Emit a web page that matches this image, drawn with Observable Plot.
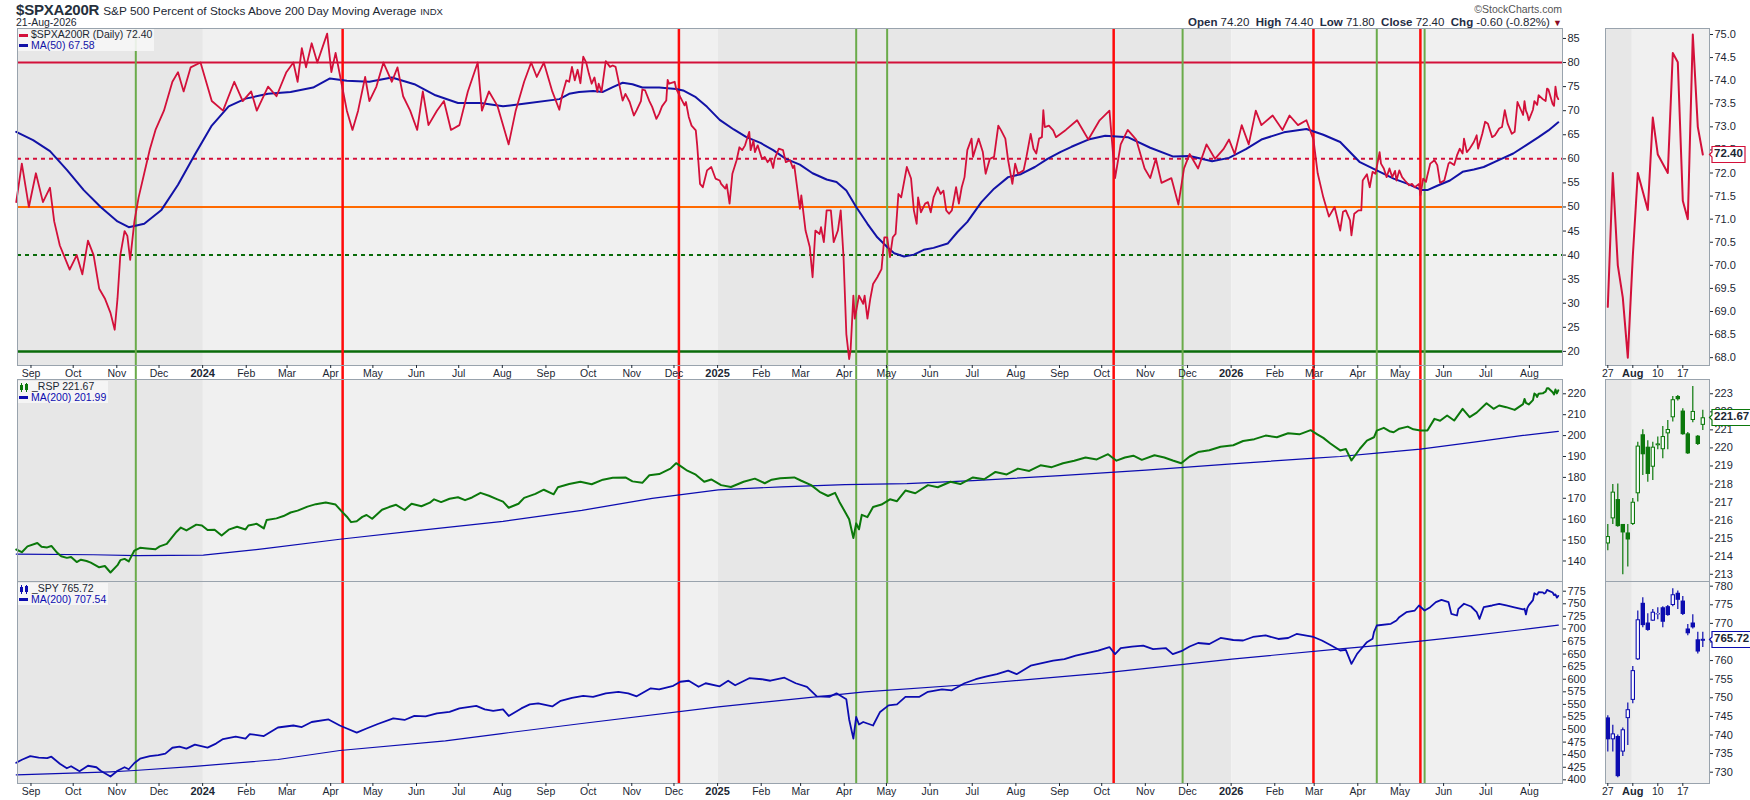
<!DOCTYPE html>
<html>
<head>
<meta charset="utf-8">
<script src="https://cdn.jsdelivr.net/npm/d3@7"></script>
<script src="https://cdn.jsdelivr.net/npm/@observablehq/plot@0.6"></script>
<style>
  body { margin: 0; background: #fff; font-family: "Liberation Sans", Arial, sans-serif; color: #1c2733; }
  #root { position: relative; width: 1750px; height: 800px; overflow: hidden; background: #fff; }
  .abs { position: absolute; white-space: nowrap; }
  .legend { position: absolute; font-size: 10.5px; line-height: 10.5px; background: rgba(246,246,246,0.9); padding: 0 2px 1px 1px; }
  .sw { display: inline-block; width: 9px; height: 3px; margin-right: 3px; vertical-align: middle; }
</style>
</head>
<body>
<div id="root"></div>
<script>
// ---------------- DATA ----------------
const quote = {open: 74.20, high: 74.40, low: 71.80, close: 72.40, chg: -0.60, chgPct: -0.82};

// $SPXA200R daily
const pctSeries = [
["2023-08-21",51],["2023-08-25",59],["2023-08-30",50],["2023-09-04",57],["2023-09-09",51],["2023-09-14",54],
["2023-09-17",47],["2023-09-21",42],["2023-09-28",37],["2023-10-03",40],["2023-10-07",36],["2023-10-11",43],
["2023-10-15",40],["2023-10-19",33],["2023-10-23",31],["2023-10-27",28],["2023-10-30",24.5],["2023-11-01",31],
["2023-11-03",40],["2023-11-06",45],["2023-11-08",44],["2023-11-10",39],["2023-11-13",47],["2023-11-16",52],
["2023-11-20",57],["2023-11-24",62],["2023-11-28",66],["2023-12-04",70],["2023-12-10",76],["2023-12-14",78],
["2023-12-18",74],["2023-12-23",79],["2023-12-30",80],["2024-01-07",72],["2024-01-15",70],["2024-01-23",76],
["2024-01-29",72],["2024-02-04",74],["2024-02-08",70],["2024-02-16",75],["2024-02-22",73],["2024-02-29",78],
["2024-03-05",80],["2024-03-08",76],["2024-03-11",83],["2024-03-14",79],["2024-03-18",84],["2024-03-22",80],
["2024-03-29",86],["2024-04-01",78],["2024-04-04",82],["2024-04-08",76],["2024-04-12",70],["2024-04-16",66],
["2024-04-20",70],["2024-04-25",77],["2024-04-28",72],["2024-05-03",75],["2024-05-08",80],["2024-05-14",76],
["2024-05-18",79],["2024-05-22",73],["2024-05-27",70],["2024-06-01",66],["2024-06-05",74],["2024-06-09",67],
["2024-06-15",70],["2024-06-20",72],["2024-06-25",66],["2024-07-01",67],["2024-07-07",74],["2024-07-14",80],
["2024-07-17",70],["2024-07-22",74],["2024-07-28",71],["2024-08-05",63],["2024-08-10",70],["2024-08-16",76],
["2024-08-21",80],["2024-08-25",77],["2024-08-30",80],["2024-09-05",74],
["2024-09-10",70.2],["2024-09-12",73.2],["2024-09-15",76.3],["2024-09-17",76.0],["2024-09-19",79.1],["2024-09-21",76.3],
["2024-09-23",78.5],["2024-09-25",75.7],["2024-09-27",81.2],["2024-09-29",80.1],["2024-10-01",77.7],["2024-10-03",75.6],
["2024-10-05",76.9],["2024-10-07",73.9],["2024-10-08",75.6],["2024-10-10",73.9],["2024-10-13",80.3],["2024-10-16",79.1],
["2024-10-18",79.4],["2024-10-20",79.1],["2024-10-23",74.9],["2024-10-25",72.1],["2024-10-27",73.5],["2024-10-30",71.8],
["2024-11-02",69.0],["2024-11-04",70.1],["2024-11-07",72.0],["2024-11-08",74.4],["2024-11-10",74.2],["2024-11-13",72.0],
["2024-11-15",70.8],["2024-11-18",68.3],["2024-11-20",69.4],["2024-11-22",70.9],["2024-11-25",72.1],["2024-11-26",76.4],
["2024-11-27",75.6],["2024-12-01",76.0],["2024-12-02",74.6],["2024-12-05",72.8],["2024-12-08",71.1],["2024-12-09",71.8],
["2024-12-11",68.7],["2024-12-13",66.9],["2024-12-16",65.9],["2024-12-17",62.8],["2024-12-19",54.8],["2024-12-21",54.1],
["2024-12-24",57.6],["2024-12-27",58.3],["2024-12-30",55.9],["2025-01-02",55.5],["2025-01-03",54.8],["2025-01-06",53.8],
["2025-01-07",54.7],["2025-01-09",50.7],["2025-01-11",56.9],["2025-01-14",59.7],["2025-01-16",62.4],["2025-01-18",61.8],
["2025-01-20",62.8],["2025-01-23",65.6],["2025-01-24",61.8],["2025-01-26",63.8],["2025-01-27",61.4],["2025-01-29",62.8],
["2025-02-01",60.0],["2025-02-03",60.4],["2025-02-05",59.3],["2025-02-07",60.0],["2025-02-09",58.1],["2025-02-10",60.0],
["2025-02-13",62.1],["2025-02-16",61.8],["2025-02-18",59.3],["2025-02-21",59.7],["2025-02-23",58.1],["2025-02-24",58.6],
["2025-02-26",54.1],["2025-02-28",49.6],["2025-03-01",52.4],["2025-03-02",50.0],["2025-03-04",45.1],["2025-03-07",41.7],
["2025-03-09",35.4],["2025-03-11",45.1],["2025-03-14",44.4],["2025-03-15",45.8],["2025-03-17",42.7],["2025-03-19",49.3],
["2025-03-22",49.3],["2025-03-24",42.7],["2025-03-27",45.1],["2025-03-29",49.3],["2025-03-31",39.6],["2025-04-02",23.6],
["2025-04-04",18.4],["2025-04-05",20.2],["2025-04-07",31.6],["2025-04-08",26.8],["2025-04-11",31.6],["2025-04-14",29.9],
["2025-04-15",31.6],["2025-04-17",26.8],["2025-04-19",30.9],["2025-04-21",34.0],["2025-04-24",35.4],["2025-04-27",37.1],
["2025-04-29",43.7],["2025-05-01",43.7],["2025-05-03",39.6],["2025-05-05",43.7],["2025-05-07",44.4],["2025-05-09",52.7],
["2025-05-11",52.0],["2025-05-15",58.3],["2025-05-18",55.9],["2025-05-20",49.3],["2025-05-22",46.5],["2025-05-23",52.0],
["2025-05-25",48.9],["2025-05-28",50.7],["2025-05-30",51.0],["2025-06-01",48.9],["2025-06-03",52.0],["2025-06-06",54.1],
["2025-06-08",52.7],["2025-06-10",53.4],["2025-06-12",49.3],["2025-06-14",48.6],["2025-06-16",49.3],["2025-06-19",54.1],
["2025-06-21",50.7],["2025-06-23",54.1],["2025-06-25",56.2],["2025-06-27",61.8],["2025-06-30",64.2],["2025-07-01",60.4],
["2025-07-05",64.2],["2025-07-08",61.4],["2025-07-10",56.9],["2025-07-13",60.0],["2025-07-16",60.4],["2025-07-19",66.9],
["2025-07-21",65.9],["2025-07-24",64.2],["2025-07-26",59.7],["2025-07-29",54.8],["2025-07-31",59.0],["2025-08-02",56.9],
["2025-08-06",57.6],["2025-08-08",60.4],["2025-08-11",65.2],["2025-08-13",62.1],["2025-08-15",61.1],["2025-08-17",64.2],
["2025-08-19",64.5],["2025-08-20",70.1],["2025-08-21",66.6],["2025-08-24",66.9],["2025-08-27",65.9],["2025-08-29",64.5],
["2025-09-05",66],["2025-09-13",68],["2025-09-21",64],["2025-09-29",68],["2025-10-06",70],["2025-10-10",56],
["2025-10-14",63],["2025-10-19",66],["2025-10-25",64],["2025-10-31",58],["2025-11-04",56],["2025-11-08",60],
["2025-11-12",55],["2025-11-19",56],["2025-11-24",50.5],["2025-11-28",58],["2025-12-02",61],["2025-12-08",58],
["2025-12-14",63],["2025-12-20",60],["2025-12-26",62],["2025-12-30",64],["2026-01-03",61],["2026-01-08",67],
["2026-01-13",63],["2026-01-18",70],["2026-01-22",67],["2026-01-30",69],["2026-02-06",66],["2026-02-11",69],
["2026-02-17",67],["2026-02-23",68],["2026-02-28",64],["2026-03-03",57],["2026-03-07",52],["2026-03-11",48],
["2026-03-15",50],
["2026-03-19",45.1],["2026-03-21",49.0],["2026-03-23",49.3],["2026-03-26",47.2],["2026-03-27",44.1],["2026-03-29",48.6],
["2026-04-01",49.3],["2026-04-03",49.3],["2026-04-04",55.5],["2026-04-07",56.8],["2026-04-09",54.1],["2026-04-11",57.3],
["2026-04-13",56.9],["2026-04-14",58.3],["2026-04-16",61.4],["2026-04-17",59.0],["2026-04-19",58.0],["2026-04-21",56.2],
["2026-04-23",58.0],["2026-04-25",56.2],["2026-04-27",57.5],["2026-04-28",55.5],["2026-04-30",57.6],["2026-05-02",56.2],
["2026-05-04",55.5],["2026-05-07",54.5],["2026-05-09",54.8],["2026-05-11",54.1],["2026-05-14",54.8],["2026-05-15",52.4],
["2026-05-17",55.9],["2026-05-19",55.2],["2026-05-20",56.6],["2026-05-22",59.0],["2026-05-25",59.7],["2026-05-27",58.7],
["2026-05-29",55.0],["2026-06-01",55.5],["2026-06-04",59.0],["2026-06-05",59.3],["2026-06-08",58.7],["2026-06-10",60.7],
["2026-06-12",62.1],["2026-06-14",61.1],["2026-06-15",64.2],["2026-06-17",61.4],["2026-06-19",62.1],["2026-06-22",63.5],
["2026-06-24",64.9],["2026-06-25",62.1],["2026-06-28",65.2],["2026-06-30",67.7],["2026-07-02",67.3],["2026-07-05",64.5],
["2026-07-07",64.9],["2026-07-10",66.3],["2026-07-12",66.6],["2026-07-14",70.1],["2026-07-16",67.3],["2026-07-19",65.2],
["2026-07-21",65.6],["2026-07-23",71.8]
];

// MA(50) of $SPXA200R
const ma50Series = [
["2023-08-21",65.6],["2023-09-02",63.9],["2023-09-14",61.6],["2023-09-26",57.7],["2023-10-08",53.5],["2023-10-20",50.0],
["2023-11-01",47.0],["2023-11-09",45.8],["2023-11-20",46.5],["2023-12-02",49.3],["2023-12-14",54.6],["2023-12-26",60.9],
["2024-01-07",66.9],["2024-01-19",70.9],["2024-01-31",72.5],["2024-02-16",73.5],["2024-03-03",73.9],["2024-03-19",74.8],
["2024-03-31",76.7],["2024-04-12",76.2],["2024-04-28",76.0],["2024-05-14",76.9],["2024-05-30",75.5],["2024-06-14",73.2],
["2024-06-30",71.6],["2024-07-16",71.6],["2024-08-01",70.9],["2024-08-17",71.5],["2024-09-10",72.4],["2024-09-17",73.5],
["2024-09-24",73.9],["2024-10-04",74.1],["2024-10-11",73.9],["2024-10-18",74.9],["2024-10-25",75.8],["2024-11-01",75.5],
["2024-11-08",74.8],["2024-11-20",74.8],["2024-12-02",74.5],["2024-12-07",74.2],["2024-12-16",72.8],["2024-12-24",70.8],
["2025-01-02",68.1],["2025-01-12",66.1],["2025-01-21",64.5],["2025-01-31",63.3],["2025-02-09",61.8],["2025-02-18",60.0],
["2025-02-28",58.8],["2025-03-09",57.0],["2025-03-19",55.7],["2025-03-26",55.2],["2025-04-02",53.4],["2025-04-09",50.0],
["2025-04-17",46.5],["2025-04-24",43.7],["2025-05-01",41.7],["2025-05-06",40.4],["2025-05-13",39.7],["2025-05-20",40.1],
["2025-05-27",41.1],["2025-06-03",41.5],["2025-06-13",42.4],["2025-06-20",44.8],["2025-06-27",46.9],["2025-07-07",51.0],
["2025-07-16",53.8],["2025-07-26",56.2],["2025-08-04",56.8],["2025-08-14",58.3],["2025-08-23",60.0],["2025-09-01",61.4],
["2025-09-09",62.5],["2025-09-21",64.0],["2025-10-03",64.8],["2025-10-19",64.5],["2025-11-04",62.3],["2025-11-20",60.5],
["2025-12-02",60.6],["2025-12-18",59.5],["2025-12-30",60.2],["2026-01-11",62.0],["2026-01-22",64.0],["2026-02-07",65.5],
["2026-02-23",66.2],["2026-03-07",65.0],["2026-03-19",63.5],["2026-04-02",59.3],["2026-04-14",57.6],["2026-04-26",55.9],
["2026-05-06",54.8],["2026-05-16",53.5],["2026-05-20",53.5],["2026-05-27",54.4],["2026-06-05",55.5],["2026-06-14",57.3],
["2026-06-22",57.8],["2026-06-29",58.3],["2026-07-10",59.8],["2026-07-20",61.1],["2026-07-29",62.8],["2026-08-07",64.5],
["2026-08-14",65.9],["2026-08-21",67.58]
];

// _RSP closes
const rspSeries = [
["2023-08-21",145.5],["2023-08-25",144.2],["2023-08-29",147],["2023-09-05",148.6],["2023-09-08",146.8],["2023-09-12",146.5],
["2023-09-15",147.2],["2023-09-19",144],["2023-09-22",142.3],["2023-09-26",141.5],["2023-09-29",141.9],["2023-10-03",139.5],
["2023-10-06",140.6],["2023-10-10",140],["2023-10-13",139.2],["2023-10-19",137],["2023-10-23",137.6],["2023-10-27",134.5],
["2023-11-01",138],["2023-11-03",140.4],["2023-11-06",141],["2023-11-09",139.8],["2023-11-13",145],["2023-11-17",146.3],
["2023-11-22",146],["2023-11-28",145.6],["2023-12-01",147],["2023-12-06",148.2],["2023-12-13",154],["2023-12-16",156],
["2023-12-20",154.6],["2023-12-27",157.4],["2023-12-31",157],["2024-01-04",154.8],["2024-01-09",155],["2024-01-14",152.2],
["2024-01-19",155],["2024-01-25",156.4],["2024-01-31",155.1],["2024-02-02",157],["2024-02-08",157.8],["2024-02-13",155.6],
["2024-02-15",159.6],["2024-02-22",160.4],["2024-02-27",161.5],["2024-03-03",163.2],["2024-03-08",164.1],["2024-03-15",166],
["2024-03-21",167.2],["2024-03-28",168],["2024-04-04",167],["2024-04-08",164],["2024-04-12",161.2],["2024-04-15",158.6],
["2024-04-19",159],["2024-04-23",161.1],["2024-04-26",162],["2024-04-30",160.2],["2024-05-07",164.5],["2024-05-12",165.8],
["2024-05-17",166.9],["2024-05-23",164.4],["2024-05-28",167.4],["2024-06-04",166.2],["2024-06-10",167.9],["2024-06-13",169.5],
["2024-06-18",168.2],["2024-06-24",169.8],["2024-06-30",170.5],["2024-07-05",169.1],["2024-07-10",170.4],["2024-07-16",172.6],
["2024-07-22",171.2],["2024-07-28",169.5],["2024-08-01",168.4],["2024-08-05",165.5],["2024-08-12",167.4],["2024-08-16",170.2],
["2024-08-24",172.1],["2024-08-30",174.1],["2024-09-06",171.9],["2024-09-09",175.3],["2024-09-17",176.8],["2024-09-25",177.9],
["2024-10-03",176.7],["2024-10-11",178.9],["2024-10-18",179.8],["2024-10-27",180],["2024-11-01",178.1],["2024-11-08",177.4],
["2024-11-13",181.0],["2024-11-20",181.6],["2024-11-28",184.2],["2024-12-02",186.8],["2024-12-06",185.0],["2024-12-10",183.2],
["2024-12-16",181.3],["2024-12-22",177.9],["2024-12-27",179.0],["2025-01-03",176.3],["2025-01-10",175.4],["2025-01-19",177.9],
["2025-01-27",179.4],["2025-02-03",177.2],["2025-02-08",178.9],["2025-02-14",179.6],["2025-02-24",180],["2025-03-01",178.4],
["2025-03-08",176.3],["2025-03-14",173.1],["2025-03-20",171.1],["2025-03-25",172.6],["2025-03-28",168.4],["2025-04-04",160],
["2025-04-07",151],["2025-04-09",158],["2025-04-11",155.2],["2025-04-13",162.1],["2025-04-17",161.0],["2025-04-21",165.8],
["2025-04-27",167.0],["2025-05-03",169.5],["2025-05-08",168.6],["2025-05-14",173.7],["2025-05-21",172.4],["2025-05-30",176.3],
["2025-06-06",175.3],["2025-06-15",177.9],["2025-06-22",176.8],["2025-07-01",180],["2025-07-09",179.1],["2025-07-17",182.6],
["2025-07-25",181.4],["2025-08-02",184.2],["2025-08-10",183.1],["2025-08-18",185.8],["2025-08-26",184.9],["2025-09-03",186.8],
["2025-09-11",188.0],["2025-09-19",189.5],["2025-09-27",188.6],["2025-10-05",191.1],["2025-10-11",188.0],["2025-10-17",189.5],
["2025-10-23",190.4],["2025-10-29",188.4],["2025-11-07",190.6],["2025-11-14",189.5],["2025-11-20",188.1],["2025-11-26",186.8],
["2025-12-02",190.0],["2025-12-08",192.1],["2025-12-16",193.0],["2025-12-24",194.7],["2026-01-02",195.4],["2026-01-09",197.4],
["2026-01-17",198.3],["2026-01-25",200],["2026-02-02",199.2],["2026-02-10",201.1],["2026-02-18",200.6],["2026-02-26",202.6],
["2026-03-03",200.5],["2026-03-07",198.9],["2026-03-12",196.2],["2026-03-19",192.9],["2026-03-23",193.6],["2026-03-27",188.1],
["2026-04-02",193.7],["2026-04-07",197.6],["2026-04-12",199.2],["2026-04-14",202.4],["2026-04-19",203.7],["2026-04-23",202.1],
["2026-04-26",201.6],["2026-04-30",203.3],["2026-05-06",204.3],["2026-05-10",203.0],["2026-05-15",202.4],["2026-05-20",202.4],
["2026-05-25",208],["2026-05-29",207.1],["2026-06-03",209.6],["2026-06-08",207.2],["2026-06-14",212.8],["2026-06-19",208.8],
["2026-06-24",211.0],["2026-07-01",215.5],["2026-07-06",212.8],["2026-07-10",214.4],["2026-07-15",213.6],["2026-07-21",212.3]
];
const rspMa200Series = [
["2023-08-21",143.3],["2023-10-15",143.0],["2023-11-15",142.6],["2024-01-01",142.8],["2024-02-15",146.0],["2024-04-07",150.4],
["2024-06-01",154.5],["2024-08-01",159.0],["2024-09-26",164.2],["2024-11-15",170.0],["2025-01-01",174.0],["2025-02-15",175.5],
["2025-04-01",176.5],["2025-05-15",177.0],["2025-07-01",178.5],["2025-09-01",180.8],["2025-11-01",183.5],["2026-01-01",186.5],
["2026-03-01",189.2],["2026-03-19",190.0],["2026-04-14",191.6],["2026-05-15",193.5],["2026-06-22",196.9],["2026-07-27",200.1],
["2026-08-21",201.99]
];

// _SPY closes
const spySeries = [
["2023-08-21",434],["2023-08-25",440],["2023-08-31",447],["2023-09-06",444],["2023-09-12",443],["2023-09-15",446],
["2023-09-21",432],["2023-09-26",423],["2023-09-29",427],["2023-10-05",417],["2023-10-11",428],["2023-10-17",425],
["2023-10-20",418],["2023-10-27",406.6],["2023-11-01",418],["2023-11-06",425],["2023-11-09",421],["2023-11-13",433.5],
["2023-11-17",442],["2023-11-24",447],["2023-11-30",449],["2023-12-05",452],["2023-12-10",463.8],["2023-12-15",466],
["2023-12-20",462],["2023-12-26",470],["2024-01-04",464],["2024-01-10",472],["2024-01-15",481],["2024-01-24",486],
["2024-01-31",482],["2024-02-03",491],["2024-02-13",487],["2024-02-23",504],["2024-03-05",508],["2024-03-11",505],
["2024-03-18",515],["2024-03-30",520],["2024-04-07",508],["2024-04-12",502],["2024-04-19",494],["2024-04-26",502],
["2024-05-04",511],["2024-05-15",522],["2024-05-23",519],["2024-05-30",527],["2024-06-07",526],["2024-06-15",532],
["2024-06-24",535],["2024-07-01",542],["2024-07-13",547],["2024-07-19",540],["2024-07-25",537],["2024-08-01",540],
["2024-08-05",527],["2024-08-14",542],["2024-08-20",550],["2024-08-26",552],["2024-09-05",546],["2024-09-11",557],
["2024-09-19",563],["2024-09-27",567],["2024-10-04",565],["2024-10-13",572],["2024-10-22",575],["2024-10-29",572],
["2024-11-04",566],["2024-11-14",582],["2024-11-20",580],["2024-11-30",587],["2024-12-05",595],["2024-12-11",597],
["2024-12-18",585],["2024-12-23",592],["2025-01-02",586],["2025-01-08",597],["2025-01-13",588],["2025-01-23",602],
["2025-02-01",600],["2025-02-07",597],["2025-02-17",603],["2025-02-25",592],["2025-03-05",585],["2025-03-12",566],
["2025-03-21",565],["2025-03-26",572],["2025-04-02",560],["2025-04-04",520],["2025-04-07",482],["2025-04-09",525],
["2025-04-11",510],["2025-04-14",515],["2025-04-21",508],["2025-04-26",535],["2025-05-02",548],["2025-05-08",550],
["2025-05-14",565],["2025-05-24",565],["2025-05-30",575],["2025-06-09",580],["2025-06-16",578],["2025-06-25",592],
["2025-07-03",600],["2025-07-10",605],["2025-07-18",610],["2025-07-26",617],["2025-08-01",610],["2025-08-11",627],
["2025-08-19",632],["2025-08-27",637],["2025-09-04",640],["2025-09-12",647],["2025-09-20",652],["2025-09-28",657],
["2025-10-06",664],["2025-10-10",650],["2025-10-14",662],["2025-10-22",665],["2025-10-30",667],["2025-11-06",660],
["2025-11-15",662],["2025-11-20",650],["2025-11-27",657],["2025-12-02",665],["2025-12-08",672],["2025-12-16",670],
["2025-12-24",682],["2026-01-02",678],["2026-01-09",677],["2026-01-16",684],["2026-01-25",687],["2026-02-03",680],
["2026-02-10",682],["2026-02-16",690],["2026-02-22",687],["2026-02-28",684],["2026-03-06",677],["2026-03-12",668],
["2026-03-19",657.1],["2026-03-23",658.5],["2026-03-27",630.6],["2026-03-31",650.5],["2026-04-02",657.1],
["2026-04-07",673.7],["2026-04-11",680.3],["2026-04-12",693.6],["2026-04-14",706.8],["2026-04-24",710.2],["2026-04-28",716.8],
["2026-04-30",723.4],["2026-05-05",733.3],["2026-05-11",736.6],["2026-05-14",746.6],["2026-05-18",736.6],["2026-05-22",743.2],
["2026-05-26",753.2],["2026-05-30",757.8],["2026-06-04",753.2],["2026-06-06",730],["2026-06-10",726.7],["2026-06-11",740],
["2026-06-15",750],["2026-06-20",744.6],["2026-06-24",733.3],["2026-06-26",720.1],["2026-06-29",743.2],["2026-07-05",746.6],
["2026-07-10",750],["2026-07-15",746.6],["2026-07-20",743.2]
];
const spyMa200Series = [
["2023-08-21",410],["2023-10-27",416],["2023-11-13",418.5],["2023-12-26",426.7],["2024-02-23",440.4],["2024-04-07",458.3],
["2024-06-21",477.4],["2024-07-31",492],["2024-09-26",512],["2025-01-01",545],["2025-04-15",575],["2025-07-01",590],
["2025-10-01",612],["2026-01-01",640],["2026-03-19",660.4],["2026-04-14",667],["2026-05-15",675.7],["2026-06-22",687],
["2026-07-27",698.9],["2026-08-21",707.54]
];

// Last 20 sessions (right-hand panels)
const miniDays = ["2026-07-27","2026-07-28","2026-07-29","2026-07-30","2026-07-31","2026-08-03","2026-08-04","2026-08-05","2026-08-06","2026-08-07",
                  "2026-08-10","2026-08-11","2026-08-12","2026-08-13","2026-08-14","2026-08-17","2026-08-18","2026-08-19","2026-08-20","2026-08-21"];
const miniPct  = [69.1,72.0,70.0,69.3,68.0,70.2,72.0,71.6,71.2,73.2,72.4,72.2,72.0,74.6,74.4,71.4,71.0,75.0,73.0,72.4];
const rspOpen  = [214.68,216.07,217.14,215.76,215.29,215.76,217.46,220.73,220.04,218.93,220.12,219.90,220.78,221.67,222.85,222.04,220.78,221.52,220.65,221.25];
const rspHigh  = [215.76,217.97,218.00,215.76,215.76,217.20,220.32,221.00,220.40,220.32,220.60,221.19,221.52,222.85,222.90,222.17,220.85,223.40,220.69,222.08];
const rspLow   = [214.30,215.76,215.60,212.97,213.40,215.70,217.00,218.47,218.10,218.19,219.90,219.40,219.90,221.43,222.60,220.70,219.64,221.39,220.13,220.97];
const rspClose = [215.09,217.55,215.64,215.29,214.90,216.99,220.10,219.62,218.53,220.04,220.22,220.63,221.02,222.67,222.67,220.73,219.67,222.02,220.19,221.67];
const spyOpen  = [744.6,738.7,739.6,735.4,744.4,749.3,760.2,775.4,770.1,770.6,772.3,774.2,774.5,774.8,778.1,776.0,768.5,770.1,765.6,765.2];
const spyHigh  = [745.2,742.6,740.0,741.9,748.6,758.4,773.3,776.9,772.6,773.7,774.2,774.5,774.8,779.3,778.7,777.2,769.7,772.3,767.6,767.6];
const spyLow   = [735.4,735.4,728.5,734.2,737.2,748.4,760.0,768.8,767.9,770.6,771.0,768.8,771.9,774.5,773.7,772.1,766.7,768.5,761.8,763.5];
const spyClose = [738.7,740.3,728.8,741.4,746.8,757.3,770.97,769.4,768.1,773.0,772.6,770.3,772.1,777.7,776.2,772.4,767.2,768.8,762.3,765.72];
const miniTickIdx = [0, 10, 15];
const miniTickLabels = ["27", "10", "17"];
const miniMonthIdx = [5];
const miniMonthLabels = ["Aug"];

// Annotation lines
const redLines   = ["2024-04-09","2024-12-04","2025-10-09","2026-02-28","2026-05-15"];
const greenLines = ["2023-11-14","2025-04-09","2025-05-01","2025-11-27","2026-04-14","2026-05-18"];
const yearBands  = [["2023-08-01","2024-01-01","dark"],["2024-01-01","2025-01-01","light"],["2025-01-01","2026-01-01","dark"],["2026-01-01","2026-09-01","light"]];

// Axis ticks
const topTicks = [20,25,30,35,40,45,50,55,60,65,70,75,80,85];
const midTicks = [140,150,160,170,180,190,200,210,220];
const botTicks = [400,425,450,475,500,525,550,575,600,625,650,675,700,725,750,775];
const miniTopTicks = [68.0,68.5,69.0,69.5,70.0,70.5,71.0,71.5,72.0,72.5,73.0,73.5,74.0,74.5,75.0];
const miniMidTicks = [213,214,215,216,217,218,219,220,221,222,223];
const miniBotTicks = [730,735,740,745,750,755,760,765,770,775,780];

// ---------------- BUILD ----------------
const parse = s => new Date(s + "T12:00:00Z");
const toRows = arr => arr.map(([d, v]) => ({date: parse(d), value: v}));
const miniRows = vals => miniDays.map((d, i) => [d, vals[i]]);

const pct = toRows(pctSeries.concat(miniRows(miniPct)));
const ma50 = toRows(ma50Series);
const rsp = toRows(rspSeries.concat(miniRows(rspClose)));
const rspMa = toRows(rspMa200Series);
const spy = toRows(spySeries.concat(miniRows(spyClose)));
const spyMa = toRows(spyMa200Series);
const miniPctRows = miniPct.map((v, i) => ({i, value: v}));
const candles = (o, h, l, c) => o.map((_, i) => ({i, o: o[i], h: h[i], l: l[i], c: c[i], top: Math.max(o[i], c[i]), bot: Math.min(o[i], c[i])}));
const rspCandles = candles(rspOpen, rspHigh, rspLow, rspClose);
const spyCandles = candles(spyOpen, spyHigh, spyLow, spyClose);

const C = {
  red: "#d3103a", ma: "#1212a6", green: "#0b780b", blue: "#0c0cb0",
  dark: "#e7e7e7", light: "#f0f0f0", frame: "#99a3ad",
  vRed: "#ff0a0a", vGreen: "#6aab4a", orange: "#ff6a00", dkGreen: "#0a6b0a"
};
const X_DOMAIN = [new Date("2023-08-22T10:00:00Z"), new Date("2026-08-24T12:00:00Z")];
const bands = yearBands.map(([a, b, s]) => ({start: d3.max([parse(a), X_DOMAIN[0]]), end: d3.min([parse(b), X_DOMAIN[1]]), fill: C[s]}));
const monthTicks = d3.utcMonth.range(new Date("2023-09-01T00:00:00Z"), new Date("2026-08-02T00:00:00Z"));
const nonJan = monthTicks.filter(d => d.getUTCMonth() !== 0);
const jan = monthTicks.filter(d => d.getUTCMonth() === 0);
const reds = redLines.map(parse), greens = greenLines.map(parse);

const baseStyle = {fontFamily: "'Liberation Sans', Arial, sans-serif", fontSize: "11px", color: "#1c2733", background: "transparent", overflow: "visible", maxWidth: "none"};

const MAIN_W = 1605, ML = 17, MR = 43;
const MINI_W = 145, MINI_MR = 41;
const MINI_X = [-0.46, 20.34];

function xAxes() {
  return [
    Plot.axisX({ticks: nonJan, tickFormat: d3.utcFormat("%b"), tickSize: 3, tickPadding: 1, fontSize: 10.5, label: null}),
    Plot.axisX({ticks: jan, tickFormat: d3.utcFormat("%Y"), tickSize: 3, tickPadding: 1, fontSize: 11, fontWeight: "bold", label: null})
  ];
}
function yAxis(ticks, fmt) {
  return Plot.axisY({anchor: "right", ticks, tickSize: 3, tickPadding: 2, fontSize: 11, tickFormat: fmt, label: null});
}
function vLines(extendBottom) {
  return [
    Plot.ruleX(greens, {x: d => d, stroke: C.vGreen, strokeWidth: 2, insetBottom: -extendBottom}),
    Plot.ruleX(reds, {x: d => d, stroke: C.vRed, strokeWidth: 2.5, insetBottom: -extendBottom})
  ];
}
function miniXAxes() {
  return [
    Plot.axisX({ticks: miniTickIdx, tickFormat: d => miniTickLabels[miniTickIdx.indexOf(d)], tickSize: 3, tickPadding: 1, fontSize: 10.5, label: null}),
    Plot.axisX({ticks: miniMonthIdx, tickFormat: d => miniMonthLabels[miniMonthIdx.indexOf(d)], tickSize: 3, tickPadding: 1, fontSize: 11, fontWeight: "bold", label: null})
  ];
}
const miniBands = [{x1: MINI_X[0], x2: 4.9, fill: C.dark}, {x1: 4.9, x2: MINI_X[1], fill: C.light}];
function tag(value, color) {
  return Plot.tip([value], {y: d => d, frameAnchor: "right", anchor: "left", title: d => d.toFixed(2),
    fill: "white", stroke: color, strokeWidth: 1.2, pathFilter: "none", textPadding: 2, pointerSize: 5,
    fontSize: 11.5, fontWeight: "bold"});
}
function candleMarks(rows, color) {
  return [
    Plot.ruleX(rows, {x: "i", y1: "l", y2: "h", stroke: color, strokeWidth: 1.2}),
    Plot.ruleX(rows, {x: "i", y1: "top", y2: "bot", stroke: color, strokeWidth: 4.4}),
    Plot.ruleX(rows.filter(d => d.c >= d.o), {x: "i", y1: "top", y2: "bot", stroke: "white", strokeWidth: 2.2, insetTop: 1, insetBottom: 1})
  ];
}

function place(node, left, top) {
  const div = document.createElement("div");
  div.className = "abs";
  div.style.left = left + "px"; div.style.top = top + "px";
  div.appendChild(node);
  document.getElementById("root").appendChild(div);
}

// --- Top main panel ---
place(Plot.plot({
  width: MAIN_W, height: 351, marginLeft: ML, marginRight: MR, marginTop: 0, marginBottom: 14,
  style: baseStyle,
  x: {type: "utc", domain: X_DOMAIN, axis: null},
  y: {domain: [17.07, 87.07], axis: null},
  marks: [
    Plot.rect(bands, {x1: "start", x2: "end", fill: "fill"}),
    Plot.ruleY([80], {stroke: C.red, strokeWidth: 2}),
    Plot.ruleY([60], {stroke: C.red, strokeWidth: 2, strokeDasharray: "4,4"}),
    Plot.ruleY([50], {stroke: C.orange, strokeWidth: 2}),
    Plot.ruleY([40], {stroke: C.dkGreen, strokeWidth: 2, strokeDasharray: "4,4"}),
    Plot.ruleY([20], {stroke: C.dkGreen, strokeWidth: 2.5}),
    ...vLines(14),
    Plot.line(ma50, {x: "date", y: "value", stroke: C.ma, strokeWidth: 2}),
    Plot.line(pct, {x: "date", y: "value", stroke: C.red, strokeWidth: 1.8}),
    Plot.frame({stroke: C.frame}),
    yAxis(topTicks),
    ...xAxes()
  ]
}), 0, 28);

// --- Middle main panel ---
place(Plot.plot({
  width: MAIN_W, height: 202, marginLeft: ML, marginRight: MR, marginTop: 0, marginBottom: 0,
  style: baseStyle,
  x: {type: "utc", domain: X_DOMAIN, axis: null},
  y: {domain: [130.19, 226.84], axis: null},
  marks: [
    Plot.rect(bands, {x1: "start", x2: "end", fill: "fill"}),
    ...vLines(0),
    Plot.line(rspMa, {x: "date", y: "value", stroke: C.blue, strokeWidth: 1.2}),
    Plot.line(rsp, {x: "date", y: "value", stroke: C.green, strokeWidth: 2}),
    Plot.frame({stroke: C.frame}),
    yAxis(midTicks)
  ]
}), 0, 379);

// --- Bottom main panel ---
place(Plot.plot({
  width: MAIN_W, height: 218, marginLeft: ML, marginRight: MR, marginTop: 0, marginBottom: 16,
  style: baseStyle,
  x: {type: "utc", domain: X_DOMAIN, axis: null},
  y: {domain: [392.7, 794.3], axis: null},
  marks: [
    Plot.rect(bands, {x1: "start", x2: "end", fill: "fill"}),
    ...vLines(0),
    Plot.line(spyMa, {x: "date", y: "value", stroke: C.blue, strokeWidth: 1.2}),
    Plot.line(spy, {x: "date", y: "value", stroke: C.blue, strokeWidth: 1.8}),
    Plot.frame({stroke: C.frame}),
    yAxis(botTicks),
    ...xAxes()
  ]
}), 0, 581);

// --- Top mini panel ---
place(Plot.plot({
  width: MINI_W, height: 351, marginLeft: 0, marginRight: MINI_MR, marginTop: 0, marginBottom: 14,
  style: baseStyle,
  x: {domain: MINI_X, axis: null},
  y: {domain: [67.83, 75.13], axis: null},
  marks: [
    Plot.rect(miniBands, {x1: "x1", x2: "x2", fill: "fill"}),
    Plot.line(miniPctRows, {x: "i", y: "value", stroke: C.red, strokeWidth: 2}),
    Plot.frame({stroke: C.frame}),
    yAxis(miniTopTicks, d3.format(".1f")),
    ...miniXAxes(),
    tag(miniPct[miniPct.length - 1], C.red)
  ]
}), 1605, 28);

// --- Middle mini panel ---
place(Plot.plot({
  width: MINI_W, height: 202, marginLeft: 0, marginRight: MINI_MR, marginTop: 0, marginBottom: 0,
  style: baseStyle,
  x: {domain: MINI_X, axis: null},
  y: {domain: [212.6, 223.79], axis: null},
  marks: [
    Plot.rect(miniBands, {x1: "x1", x2: "x2", fill: "fill"}),
    ...candleMarks(rspCandles, C.green),
    Plot.frame({stroke: C.frame}),
    yAxis(miniMidTicks),
    tag(rspClose[rspClose.length - 1], C.green)
  ]
}), 1605, 379);

// --- Bottom mini panel ---
place(Plot.plot({
  width: MINI_W, height: 218, marginLeft: 0, marginRight: MINI_MR, marginTop: 0, marginBottom: 16,
  style: baseStyle,
  x: {domain: MINI_X, axis: null},
  y: {domain: [726.96, 781.26], axis: null},
  marks: [
    Plot.rect(miniBands, {x1: "x1", x2: "x2", fill: "fill"}),
    ...candleMarks(spyCandles, C.blue),
    Plot.frame({stroke: C.frame}),
    yAxis(miniBotTicks),
    ...miniXAxes(),
    tag(spyClose[spyClose.length - 1], C.blue)
  ]
}), 1605, 581);

// ---------------- TEXT (header + legends) ----------------
const root = document.getElementById("root");
function html(h) { const t = document.createElement("template"); t.innerHTML = h.trim(); root.appendChild(t.content.firstChild); }
const f2 = v => v.toFixed(2);
html(`<div class="abs" style="left:16px;top:1px;font-size:15px;font-weight:bold;color:#26303c;letter-spacing:-0.2px">$SPXA200R <span style="font-weight:normal;font-size:11.8px;color:#1c2733;letter-spacing:0">S&amp;P 500 Percent of Stocks Above 200 Day Moving Average</span> <span style="font-weight:normal;font-size:9.5px;color:#1c2733;letter-spacing:0">INDX</span></div>`);
html(`<div class="abs" style="left:16px;top:16px;font-size:10.5px;color:#1c2733">21-Aug-2026</div>`);
html(`<div class="abs" style="right:188px;top:3px;font-size:10.5px;color:#555">©StockCharts.com</div>`);
html(`<div class="abs" style="right:188px;top:16px;font-size:11.5px;color:#1c2733"><b style="color:#1f2d45">Open</b> ${f2(quote.open)} &nbsp;<b style="color:#1f2d45">High</b> ${f2(quote.high)} &nbsp;<b style="color:#1f2d45">Low</b> ${f2(quote.low)} &nbsp;<b style="color:#1f2d45">Close</b> ${f2(quote.close)} &nbsp;<b style="color:#1f2d45">Chg</b> ${f2(quote.chg)} (${f2(quote.chgPct)}%) <span style="color:#8b0a22;font-size:9px">▼</span></div>`);

html(`<div class="legend" style="left:18px;top:29px"><div><span class="sw" style="background:${C.red}"></span>$SPXA200R (Daily) ${f2(miniPct[miniPct.length-1])}</div><div style="color:${C.ma}"><span class="sw" style="background:${C.ma}"></span>MA(50) ${f2(ma50Series[ma50Series.length-1][1])}</div></div>`);
html(`<div class="legend" style="left:18px;top:381px"><div><svg width="12" height="9" style="vertical-align:middle;margin-right:1px"><line x1="2.5" y1="0" x2="2.5" y2="9" stroke="${C.green}"/><rect x="1" y="2" width="3" height="5" fill="${C.green}"/><line x1="7.5" y1="0" x2="7.5" y2="9" stroke="${C.green}"/><rect x="6" y="1" width="3" height="6" fill="${C.green}"/></svg>_RSP ${f2(rspClose[rspClose.length-1])}</div><div style="color:${C.blue}"><span class="sw" style="background:${C.blue}"></span>MA(200) ${f2(rspMa200Series[rspMa200Series.length-1][1])}</div></div>`);
html(`<div class="legend" style="left:18px;top:583px"><div><svg width="12" height="9" style="vertical-align:middle;margin-right:1px"><line x1="2.5" y1="0" x2="2.5" y2="9" stroke="${C.blue}"/><rect x="1" y="2" width="3" height="5" fill="${C.blue}"/><line x1="7.5" y1="0" x2="7.5" y2="9" stroke="${C.blue}"/><rect x="6" y="1" width="3" height="6" fill="${C.blue}"/></svg>_SPY ${f2(spyClose[spyClose.length-1])}</div><div style="color:${C.blue}"><span class="sw" style="background:${C.blue}"></span>MA(200) ${f2(spyMa200Series[spyMa200Series.length-1][1])}</div></div>`);
</script>
</body>
</html>
